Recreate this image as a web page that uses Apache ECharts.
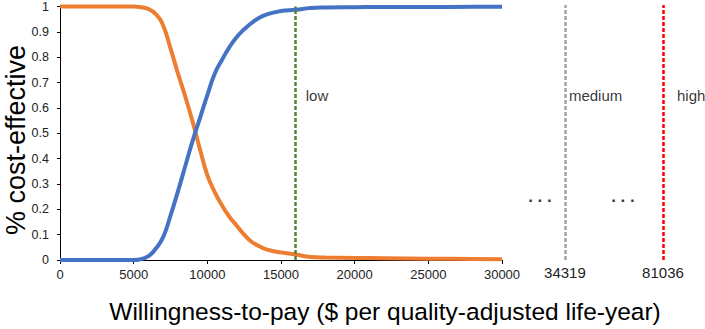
<!DOCTYPE html>
<html>
<head>
<meta charset="utf-8">
<script src="https://cdn.jsdelivr.net/npm/echarts@6/dist/echarts.min.js"></script>
<style>
  html, body { margin: 0; padding: 0; background: #fff; }
  #main { width: 705px; height: 329px; }
</style>
</head>
<body>
<div id="main"></div>
<script>
// willingness-to-pay points ($ per QALY)
var wtp = [0, 5000, 5400, 6000, 6500, 7000, 7500, 8000, 8500, 9000, 9500, 10000, 10500, 11000,
  11500, 12000, 12500, 13000, 13500, 14000, 15000, 16000, 17000, 18000, 20000, 22000, 25000, 28000, 30000];
// probability cost-effective, blue strategy
var probBlue = [0, 0, 0.002, 0.015, 0.045, 0.09, 0.175, 0.27, 0.37, 0.47, 0.56, 0.65, 0.735, 0.79,
  0.84, 0.88, 0.91, 0.935, 0.955, 0.968, 0.982, 0.987, 0.994, 0.996, 0.997, 0.998, 0.998, 0.999, 0.999];
// probability cost-effective, orange strategy
var probOrange = [1, 1, 0.998, 0.99, 0.97, 0.925, 0.835, 0.737, 0.645, 0.546, 0.437, 0.335, 0.268, 0.215,
  0.17, 0.135, 0.1, 0.072, 0.055, 0.042, 0.03, 0.022, 0.012, 0.01, 0.008, 0.007, 0.005, 0.004, 0.003];

// thresholds
var thresholdNames = ['low', 'medium', 'high'];
var thresholdWtp = [16000, 34319, 81036];
// slots of medium / high on the schematic (not to scale) part right of 30000
var schematicSlots = [3.1, 7.93];
var ellipsisSlots = [1.87, 5.96];

var font = 'Liberation Sans, Arial, sans-serif';
var chart = echarts.init(document.getElementById('main'), null, { renderer: 'svg' });

function pairs(xs, ys) {
  var out = [];
  for (var i = 0; i < xs.length; i++) out.push([xs[i], ys[i]]);
  return out;
}

var dashed = function (color) {
  return { color: color, width: 2.5, type: [4, 2] };
};

var option = {
  backgroundColor: '#ffffff',
  animation: false,
  grid: [
    { left: 60, right: 203, top: 5, bottom: 69 },
    { left: 502, right: 0, top: 5, bottom: 69 }
  ],
  xAxis: [{
    type: 'value', gridIndex: 0, min: 0, max: 30000, interval: 5000,
    splitLine: { show: false },
    axisLine: { lineStyle: { color: '#000', width: 1 } },
    axisTick: { length: 4, lineStyle: { color: '#000' } },
    axisLabel: {
      color: '#222', fontSize: 13, fontFamily: font, margin: 8,
      formatter: function (v) { return String(v); }
    }
  }, {
    type: 'value', gridIndex: 1, min: 0, max: 10,
    show: false
  }],
  yAxis: [{
    type: 'value', gridIndex: 0, min: 0, max: 1, interval: 0.1,
    splitLine: { show: false },
    axisLine: { show: true, lineStyle: { color: '#000', width: 1 } },
    axisTick: { show: true, length: 3, lineStyle: { color: '#000' } },
    axisLabel: { color: '#222', fontSize: 12.5, fontFamily: font, margin: 11 }
  }, {
    type: 'value', gridIndex: 1, min: 0, max: 1, show: false
  }],
  graphic: [{
    type: 'text', x: 16, y: 140, rotation: Math.PI / 2,
    style: { text: '% cost-effective', fontSize: 27, fontFamily: font, fill: '#000', align: 'center', verticalAlign: 'middle' }
  }, {
    type: 'text', x: 385, y: 311,
    style: { text: 'Willingness-to-pay ($ per quality-adjusted life-year)', fontSize: 24.5, fontFamily: font, fill: '#000', align: 'center', verticalAlign: 'middle' }
  }],
  series: [{
    type: 'line', xAxisIndex: 0, yAxisIndex: 0,
    data: pairs(wtp, probOrange),
    smooth: 0.5, showSymbol: false, clip: false,
    lineStyle: { color: '#ED7D31', width: 4 }, z: 2
  }, {
    type: 'line', xAxisIndex: 0, yAxisIndex: 0,
    data: pairs(wtp, probBlue),
    smooth: 0.5, showSymbol: false, clip: false,
    lineStyle: { color: '#4472C4', width: 4 }, z: 3
  }, {
    // low threshold inside the scaled axis
    type: 'scatter', xAxisIndex: 0, yAxisIndex: 0, symbolSize: 0, silent: true, z: 5,
    data: [[thresholdWtp[0], 0.647]],
    label: { show: true, position: 'right', distance: 10, formatter: thresholdNames[0], color: '#000', fontSize: 15, fontFamily: font },
    markLine: {
      silent: true, symbol: ['none', 'none'],
      label: { show: false },
      data: [{ xAxis: thresholdWtp[0], lineStyle: dashed('#548235') }]
    }
  }, {
    // medium / high on the schematic part
    type: 'scatter', xAxisIndex: 1, yAxisIndex: 1, symbolSize: 0, silent: true, z: 5,
    data: [
      { value: [schematicSlots[0], 0.647], label: { formatter: thresholdNames[1], distance: 4 } },
      { value: [schematicSlots[1], 0.647], label: { formatter: thresholdNames[2], distance: 14 } }
    ],
    label: { show: true, position: 'right', color: '#000', fontSize: 15, fontFamily: font },
    markLine: {
      silent: true, symbol: ['none', 'none'],
      label: { show: true, position: 'start', distance: 5, color: '#222', fontSize: 15, fontFamily: font },
      data: [
        { xAxis: schematicSlots[0], lineStyle: dashed('#A5A5A5'), label: { formatter: String(thresholdWtp[1]) } },
        { xAxis: schematicSlots[1], lineStyle: dashed('#FF0000'), label: { formatter: String(thresholdWtp[2]) } }
      ]
    }
  }, {
    // axis-break dots
    type: 'scatter', xAxisIndex: 1, yAxisIndex: 1, symbolSize: 0, silent: true,
    data: ellipsisSlots.map(function (s) { return [s, 0.25]; }),
    label: { show: true, position: 'inside', formatter: '. . .', color: '#000', fontSize: 17, fontWeight: 'bold', fontFamily: font }
  }]
};

chart.setOption(option);
</script>
</body>
</html>
